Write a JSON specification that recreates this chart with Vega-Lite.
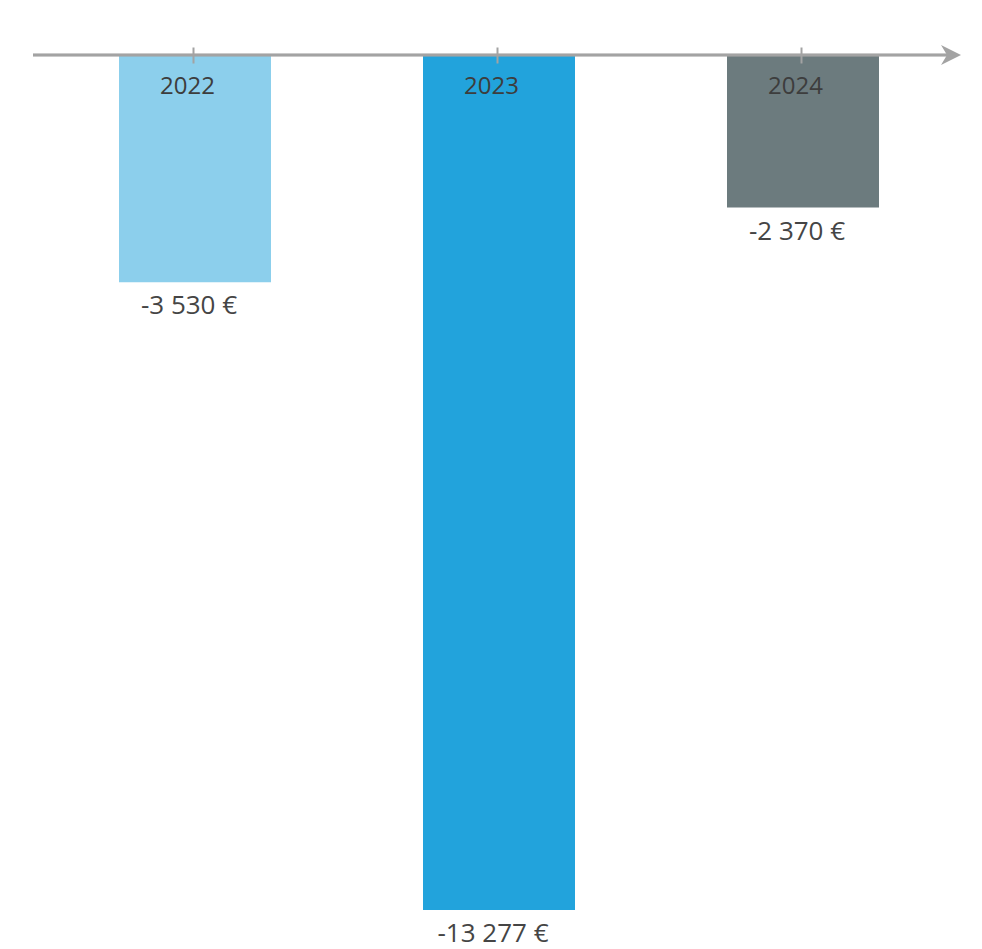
{
  "$schema": "https://vega.github.io/schema/vega-lite/v6.json",
  "width": 922,
  "height": 894,
  "autosize": {"type": "none"},
  "padding": {"left": 33, "top": 55, "right": 27, "bottom": 0},
  "background": "white",
  "config": {"view": {"stroke": null}, "font": "Open Sans"},
  "data": {"values": [
    {"year": "2022", "value": -3530, "label": "-3 530 €"},
    {"year": "2023", "value": -13277, "label": "-13 277 €"},
    {"year": "2024", "value": -2370, "label": "-2 370 €"}
  ]},
  "layer": [
    {
      "mark": {"type": "bar", "clip": false},
      "encoding": {
        "x": {
          "field": "year", "type": "nominal",
          "scale": {"range": [86, 846], "paddingInner": 0.5, "paddingOuter": 0},
          "axis": {
            "orient": "top", "title": null, "domain": false, "zindex": 2,
            "offset": -8, "tickSize": 16, "tickWidth": 2, "tickColor": "#a3a3a3",
            "tickOffset": -2, "labelOffset": -6,
            "labelPadding": -39, "labelBaseline": "middle", "labelAngle": 0,
            "labelFontSize": 24, "labelColor": "#3d3d3d", "labelFont": "Open Sans"
          }
        },
        "y": {
          "field": "value", "type": "quantitative",
          "scale": {"domain": [-13883, 0], "nice": false, "zero": false},
          "axis": null
        },
        "color": {
          "field": "year", "type": "nominal",
          "scale": {"domain": ["2022", "2023", "2024"], "range": ["#8ccfec", "#22a3dc", "#6c7b7e"]},
          "legend": null
        }
      }
    },
    {
      "mark": {"type": "text", "baseline": "middle", "dy": 24, "dx": -6, "fontSize": 26, "color": "#454545", "font": "Open Sans", "clip": false},
      "encoding": {
        "x": {"field": "year", "type": "nominal", "bandPosition": 0.5},
        "y": {"field": "value", "type": "quantitative"},
        "text": {"field": "label"}
      }
    },
    {
      "mark": {"type": "rule", "color": "#a3a3a3", "strokeWidth": 2.5},
      "encoding": {"y": {"datum": 0}}
    },
    {
      "data": {"values": [{"a": 1}]},
      "mark": {"type": "point", "filled": true, "color": "#a3a3a3", "opacity": 1, "size": 400,
               "shape": "M 1 0 L -1 -1 L -0.4 0 L -1 1 Z", "xOffset": -4, "clip": false},
      "encoding": {"x": {"value": "width"}, "y": {"datum": 0}}
    }
  ]
}
